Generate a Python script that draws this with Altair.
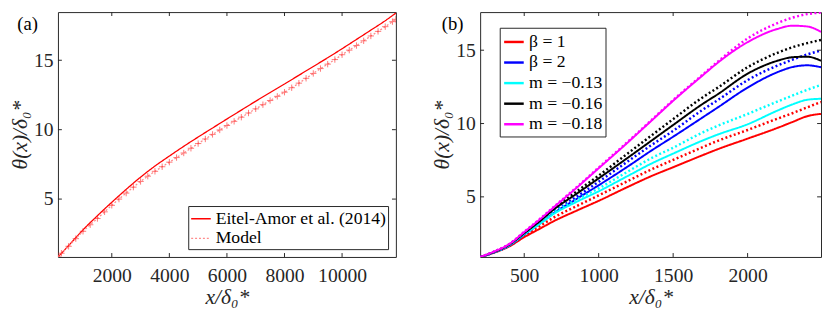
import altair as alt
import pandas as pd

FONT = "Liberation Serif"
INK = "#262626"

# ---------------- panel (a) data ----------------
eitel_x = [130, 300, 500, 750, 1000, 1500, 2000, 2500, 3000, 3500, 4000, 4500, 5000, 5500,
           6000, 6500, 7000, 7500, 8000, 8500, 9000, 9500, 10000, 10500, 11000, 11500, 11870]
eitel_y = [0.83, 1.2, 1.65, 2.22, 2.78, 3.8, 4.77, 5.7, 6.58, 7.38, 8.1, 8.8, 9.47, 10.12,
           10.77, 11.41, 12.05, 12.67, 13.29, 13.92, 14.55, 15.18, 15.83, 16.5, 17.17, 17.85, 18.4]

model_x = [130, 250, 500, 750, 1000, 1250, 1500, 1750, 2000, 2250, 2500, 2750, 3000, 3250,
           3500, 3750, 4000, 4250, 4500, 4750, 5000, 5250, 5500, 5750, 6000, 6250, 6500, 6750,
           7000, 7250, 7500, 7750, 8000, 8250, 8500, 8750, 9000, 9250, 9500, 9750, 10000,
           10250, 10500, 10750, 11000, 11250, 11500, 11750, 11870]
model_y = [0.83, 1.1, 1.6, 2.15, 2.68, 3.15, 3.6, 4.08, 4.55, 5.0, 5.43, 5.86, 6.27, 6.65,
           7.0, 7.33, 7.66, 7.99, 8.32, 8.66, 9.0, 9.33, 9.66, 9.98, 10.3, 10.6, 10.9, 11.2,
           11.5, 11.8, 12.1, 12.4, 12.7, 13.02, 13.35, 13.7, 14.05, 14.4, 14.72, 15.05, 15.4,
           15.73, 16.06, 16.4, 16.75, 17.08, 17.42, 17.78, 17.95]

series_a = ["Eitel-Amor et al. (2014)", "Model"]
xa_ticks = [2000, 4000, 6000, 8000, 10000]
ya_ticks = [5, 10, 15]
xa_domain = [130, 11870]
ya_domain = [0.83, 18.47]

# ---------------- panel (b) data ----------------
xb = [204, 300, 400, 500, 600, 700, 850, 1000, 1200, 1350, 1500, 1700, 1800, 2000, 2200, 2300, 2400, 2493]
beta1_solid = [0.9, 1.2, 1.62, 2.25, 2.8, 3.35, 4.05, 4.73, 5.7, 6.4, 7.02, 7.85, 8.25, 8.97, 9.7, 10.1, 10.5, 10.66]
beta1_dot = [0.9, 1.22, 1.66, 2.36, 2.98, 3.6, 4.36, 5.1, 6.1, 6.85, 7.52, 8.4, 8.82, 9.56, 10.33, 10.7, 11.1, 11.47]
beta2_solid = [0.9, 1.22, 1.68, 2.42, 3.14, 3.9, 4.85, 5.79, 7.1, 8.13, 9.1, 10.43, 11.1, 12.45, 13.5, 13.85, 13.97, 13.84]
beta2_dot = [0.9, 1.23, 1.7, 2.46, 3.2, 3.98, 5.0, 6.03, 7.45, 8.5, 9.5, 10.95, 11.6, 12.96, 13.95, 14.35, 14.71, 14.98]
m13_solid = [0.9, 1.23, 1.7, 2.45, 3.12, 3.85, 4.65, 5.38, 6.45, 7.25, 7.95, 8.85, 9.25, 9.95, 10.88, 11.3, 11.62, 11.69]
m13_dot = [0.9, 1.24, 1.72, 2.48, 3.2, 3.95, 4.8, 5.58, 6.75, 7.62, 8.35, 9.4, 9.85, 10.65, 11.5, 11.9, 12.3, 12.63]
m16_solid = [0.9, 1.25, 1.74, 2.52, 3.3, 4.15, 5.2, 6.26, 7.7, 8.8, 9.9, 11.35, 12.0, 13.4, 14.28, 14.52, 14.56, 14.28]
m16_dot = [0.9, 1.26, 1.76, 2.56, 3.38, 4.22, 5.35, 6.45, 8.0, 9.15, 10.3, 11.8, 12.45, 13.84, 14.82, 15.2, 15.48, 15.7]
m18_solid = [0.9, 1.28, 1.78, 2.6, 3.42, 4.3, 5.6, 6.95, 8.75, 10.15, 11.55, 13.3, 14.15, 15.55, 16.45, 16.67, 16.62, 16.25]
m18_dot = [0.9, 1.28, 1.79, 2.62, 3.45, 4.33, 5.64, 7.0, 8.8, 10.2, 11.6, 13.35, 14.22, 15.8, 16.85, 17.22, 17.46, 17.57]

series_b = ["β = 1", "β = 2", "m = −0.13", "m = −0.16", "m = −0.18"]
colors_b = ["#ff0000", "#0000ff", "#00ffff", "#000000", "#ff00ff"]
solid_b = [beta1_solid, beta2_solid, m13_solid, m16_solid, m18_solid]
dot_b = [beta1_dot, beta2_dot, m13_dot, m16_dot, m18_dot]
xb_ticks = [500, 1000, 1500, 2000]
yb_ticks = [5, 10, 15]
xb_domain = [204, 2493]
yb_domain = [0.9, 17.6]

W_A, W_B, H = 345, 348, 250
TICK = 4

# ---------------- build tables ----------------
df_a = pd.concat([
    pd.DataFrame({"x": eitel_x, "y": eitel_y, "series": series_a[0]}),
    pd.DataFrame({"x": model_x, "y": model_y, "series": series_a[1]}),
], ignore_index=True)
df_model = pd.DataFrame({"x": model_x, "y": model_y})

rows = []
for name, s, d in zip(series_b, solid_b, dot_b):
    rows.append(pd.DataFrame({"x": xb, "y": s, "series": name, "style": "solid"}))
    rows.append(pd.DataFrame({"x": xb, "y": d, "series": name, "style": "dotted"}))
df_b = pd.concat(rows, ignore_index=True)

TITLE_X = "x/δ₀*"
TITLE_Y = "θ(x)/δ₀*"


def enc_x(domain, ticks):
    return alt.X("x:Q", scale=alt.Scale(domain=domain, nice=False, zero=False),
                 axis=alt.Axis(values=ticks, format="d", title=TITLE_X,
                               labelPadding=9, titlePadding=2))


def enc_y(domain, ticks):
    return alt.Y("y:Q", scale=alt.Scale(domain=domain, nice=False, zero=False),
                 axis=alt.Axis(values=ticks, format="d", title=TITLE_Y,
                               labelPadding=5, titlePadding=2))


def box_ticks(xt, yt, X, Y, W):
    dfx = pd.DataFrame({"x": xt})
    dfy = pd.DataFrame({"y": yt})
    r = dict(color=INK, strokeWidth=1)
    return [
        alt.Chart(dfx).mark_rule(**r).encode(x=X, y=alt.value(H), y2=alt.value(H - TICK)),
        alt.Chart(dfx).mark_rule(**r).encode(x=X, y=alt.value(0), y2=alt.value(TICK)),
        alt.Chart(dfy).mark_rule(**r).encode(y=Y, x=alt.value(0), x2=alt.value(TICK)),
        alt.Chart(dfy).mark_rule(**r).encode(y=Y, x=alt.value(W - TICK), x2=alt.value(W)),
    ]


def panel_label(txt, dx):
    return alt.Chart(pd.DataFrame({"t": [txt]})).mark_text(
        font=FONT, fontSize=19, color="black", align="center", baseline="middle"
    ).encode(text="t:N", x=alt.value(dx), y=alt.value(12))


# ---------------- panel (a) ----------------
XA = enc_x(xa_domain, xa_ticks)
YA = enc_y(ya_domain, ya_ticks)
leg_a = alt.Legend(title=None, orient="bottom-right", offset=8, labelFont=FONT, labelFontSize=18,
                   labelColor="black", symbolType="stroke", symbolSize=400, symbolStrokeWidth=1.5,
                   strokeColor=INK, fillColor="white", padding=2, rowPadding=0, labelOffset=4,
                   cornerRadius=0, labelLimit=400)
lines_a = alt.Chart(df_a).mark_line(strokeWidth=1.3, clip=True, interpolate="monotone").encode(
    x=XA, y=YA,
    color=alt.Color("series:N", scale=alt.Scale(domain=series_a, range=["#ff0000", "#ff8c8c"]), legend=leg_a),
    strokeDash=alt.StrokeDash("series:N", scale=alt.Scale(domain=series_a, range=[[1, 0], [2, 2]]), legend=leg_a),
)
points_a = alt.Chart(df_model).mark_point(
    shape="M-1,0L1,0M0,-1L0,1", size=42, filled=False, color="#ff2020", opacity=0.6,
    strokeWidth=1, clip=True
).encode(x=XA, y=YA)

panel_a = alt.layer(lines_a, points_a, *box_ticks(xa_ticks, ya_ticks, XA, YA, W_A),
                    panel_label("(a)", -31)).properties(width=W_A, height=H)

# ---------------- panel (b) ----------------
XB = enc_x(xb_domain, xb_ticks)
YB = enc_y(yb_domain, yb_ticks)
leg_b = alt.Legend(title=None, orient="none", legendX=20, legendY=16, labelFont=FONT, labelFontSize=18,
                   labelColor="black", symbolType="stroke", symbolSize=400, symbolStrokeWidth=2.5,
                   strokeColor=INK, fillColor="white", padding=3, rowPadding=0, labelOffset=4,
                   cornerRadius=0, labelLimit=400)
lines_b = alt.Chart(df_b).mark_line(clip=True, interpolate="monotone").encode(
    x=XB, y=YB,
    color=alt.Color("series:N", scale=alt.Scale(domain=series_b, range=colors_b), legend=leg_b),
    strokeDash=alt.StrokeDash("style:N", scale=alt.Scale(domain=["solid", "dotted"], range=[[1, 0], [2, 2.5]]), legend=None),
    strokeWidth=alt.StrokeWidth("style:N", scale=alt.Scale(domain=["solid", "dotted"], range=[2, 2.5]), legend=None),
)
panel_b = alt.layer(lines_b, *box_ticks(xb_ticks, yb_ticks, XB, YB, W_B),
                    panel_label("(b)", -28)).properties(width=W_B, height=H)

chart = alt.hconcat(panel_a, panel_b, spacing=34).resolve_scale(
    color="independent", strokeDash="independent"
).properties(padding=0).configure_view(
    stroke=INK, strokeWidth=1
).configure_axis(
    domain=False, ticks=False, grid=False,
    labelFont=FONT, labelFontSize=20, labelColor=INK,
    titleFont=FONT, titleFontSize=22, titleFontStyle="italic", titleFontWeight="normal",
    titleColor=INK,
)

chart.save("out.html", embed_options={"renderer": "svg", "actions": False})
